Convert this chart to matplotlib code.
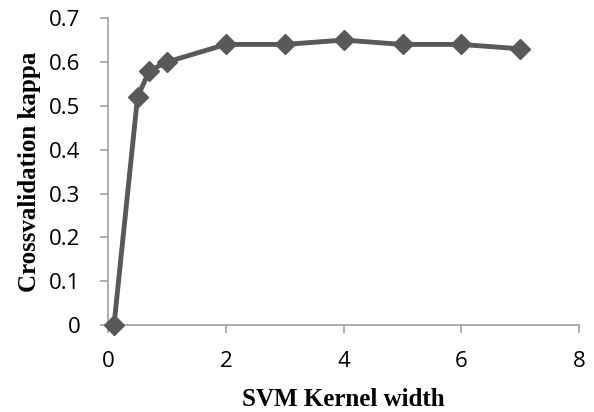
import matplotlib
matplotlib.use("Agg")
import matplotlib.pyplot as plt

kernel_width = [0.1, 0.5, 0.7, 1, 2, 3, 4, 5, 6, 7]
kappa = [0.0, 0.52, 0.58, 0.60, 0.64, 0.64, 0.65, 0.64, 0.64, 0.63]
x_ticks = [0, 2, 4, 6, 8]
y_ticks = [0, 0.1, 0.2, 0.3, 0.4, 0.5, 0.6, 0.7]

fig = plt.figure(figsize=(5.94, 4.12), dpi=100)
ax = fig.add_axes([0.182, 0.211, 0.793, 0.745])

ax.plot(kernel_width, kappa, color="#595959", linewidth=3.5,
        marker="D", markersize=10, markerfacecolor="#595959",
        markeredgecolor="#595959", clip_on=False, zorder=3)

ax.set_xlim(0, 8)
ax.set_ylim(0, 0.7)
ax.set_xticks(x_ticks)
ax.set_yticks(y_ticks)
ax.set_xticklabels([str(t) for t in x_ticks])
ax.set_yticklabels(["0"] + [f"{t:.1f}" for t in y_ticks[1:]])

for s in ["top", "right"]:
    ax.spines[s].set_visible(False)
for s in ["left", "bottom"]:
    ax.spines[s].set_color("#a0a0a0")
    ax.spines[s].set_linewidth(1.2)
ax.tick_params(colors="#a0a0a0", length=6, width=1.2, direction="out",
               labelcolor="black", labelsize=16)
ax.tick_params(axis="x", pad=13)
ax.tick_params(axis="y", pad=14)
for lbl in ax.get_xticklabels() + ax.get_yticklabels():
    lbl.set_family("Open Sans")

ax.set_xlabel("SVM Kernel width", family="Liberation Serif",
              fontweight="bold", fontsize=18, labelpad=11)
ax.set_ylabel("Crossvalidation kappa", family="Liberation Serif",
              fontweight="bold", fontsize=18, labelpad=6)

fig.savefig("out.png", dpi=100)
